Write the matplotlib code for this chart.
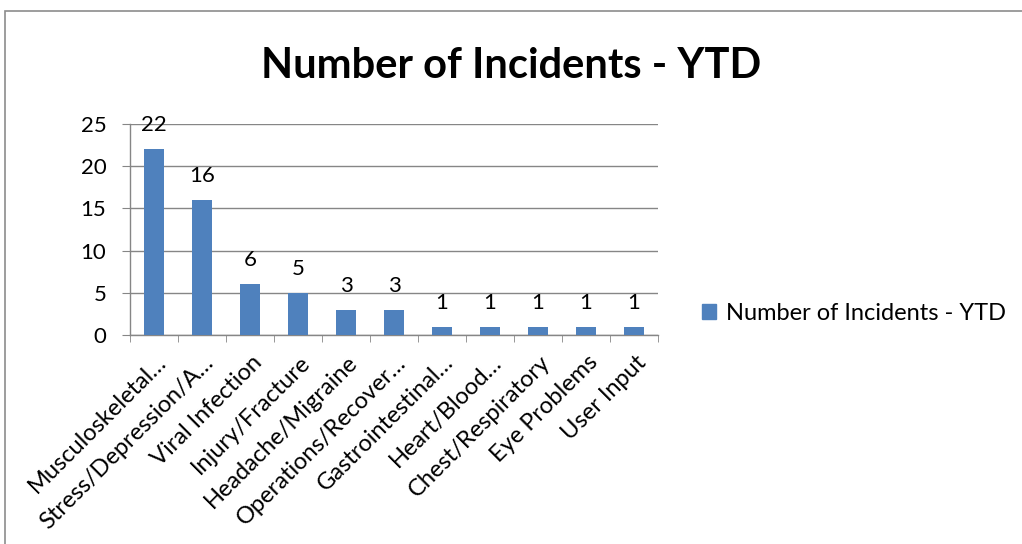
import matplotlib
matplotlib.use("Agg")
import matplotlib.pyplot as plt
import matplotlib.patches as mpatches
import matplotlib.transforms as mtrans
import numpy as np

# ── Data ──────────────────────────────────────────────
categories = [
    "Musculoskeletal…", "Stress/Depression/A…", "Viral Infection",
    "Injury/Fracture", "Headache/Migraine", "Operations/Recover…",
    "Gastrointestinal…", "Heart/Blood…", "Chest/Respiratory",
    "Eye Problems", "User Input",
]
incidents = [22, 16, 6, 5, 3, 3, 1, 1, 1, 1, 1]
series_name = "Number of Incidents - YTD"
y_ticks = [0, 5, 10, 15, 20, 25]

BAR = "#4F81BD"
GRID = "#868686"
W, H = 1022, 544

plt.rcParams["font.family"] = ["Lato", "DejaVu Sans"]

fig = plt.figure(figsize=(W / 100, H / 100), dpi=100)
fig.patch.set_facecolor("white")

# chart border (right / bottom edges fall outside the picture)
fig.patches.append(mpatches.Rectangle(
    (5 / W, -10 / H), 1030 / W, (H - 11 + 10) / H,
    transform=fig.transFigure, fill=False, edgecolor="#8c8c8c", linewidth=1.2))

ax = fig.add_axes([130 / W, (H - 335) / H, 528 / W, 211 / H])
x = np.arange(len(categories))
bars = ax.bar(x, incidents, width=0.4, color=BAR, zorder=3, label=series_name)

for b, v in zip(bars, incidents):
    ax.annotate(str(v), (b.get_x() + b.get_width() / 2, v),
                xytext=(0, 10), textcoords="offset points",
                ha="center", va="bottom", fontsize=16, color="black")

ax.set_xlim(-0.5, len(categories) - 0.5)
ax.set_ylim(0, 25)
ax.set_yticks(y_ticks)
ax.tick_params(axis="y", labelsize=16, length=6, color=GRID, pad=11)
ax.grid(axis="y", color=GRID, linewidth=1, zorder=0)

ax.set_xticks(x)
ax.set_xticklabels(categories, rotation=45, ha="right", va="top",
                   rotation_mode="anchor", fontsize=17)
ax.tick_params(axis="x", length=0, pad=12)
shift = mtrans.ScaledTranslation(1 / 100, 0, fig.dpi_scale_trans)
for lab in ax.get_xticklabels():
    lab.set_transform(lab.get_transform() + shift)
ax.set_xticks(np.arange(len(categories) + 1) - 0.5, minor=True)
ax.tick_params(axis="x", which="minor", length=5, color=GRID)

for s in ["top", "right"]:
    ax.spines[s].set_visible(False)
for s in ["left", "bottom"]:
    ax.spines[s].set_color(GRID)
    ax.spines[s].set_linewidth(1)

fig.text(0.5, 1 - 78 / H, "Number of Incidents - YTD", ha="center",
         va="baseline", fontsize=30, fontweight="bold")

fig.legend(handles=[mpatches.Patch(color=BAR, label=series_name)],
           loc="center left", bbox_to_anchor=(702 / W, 1 - 313 / H),
           frameon=False, fontsize=17, handlelength=0.6, handleheight=0.6,
           handletextpad=0.4, borderpad=0, borderaxespad=0)

fig.savefig("out.png", dpi=100, facecolor="white")
